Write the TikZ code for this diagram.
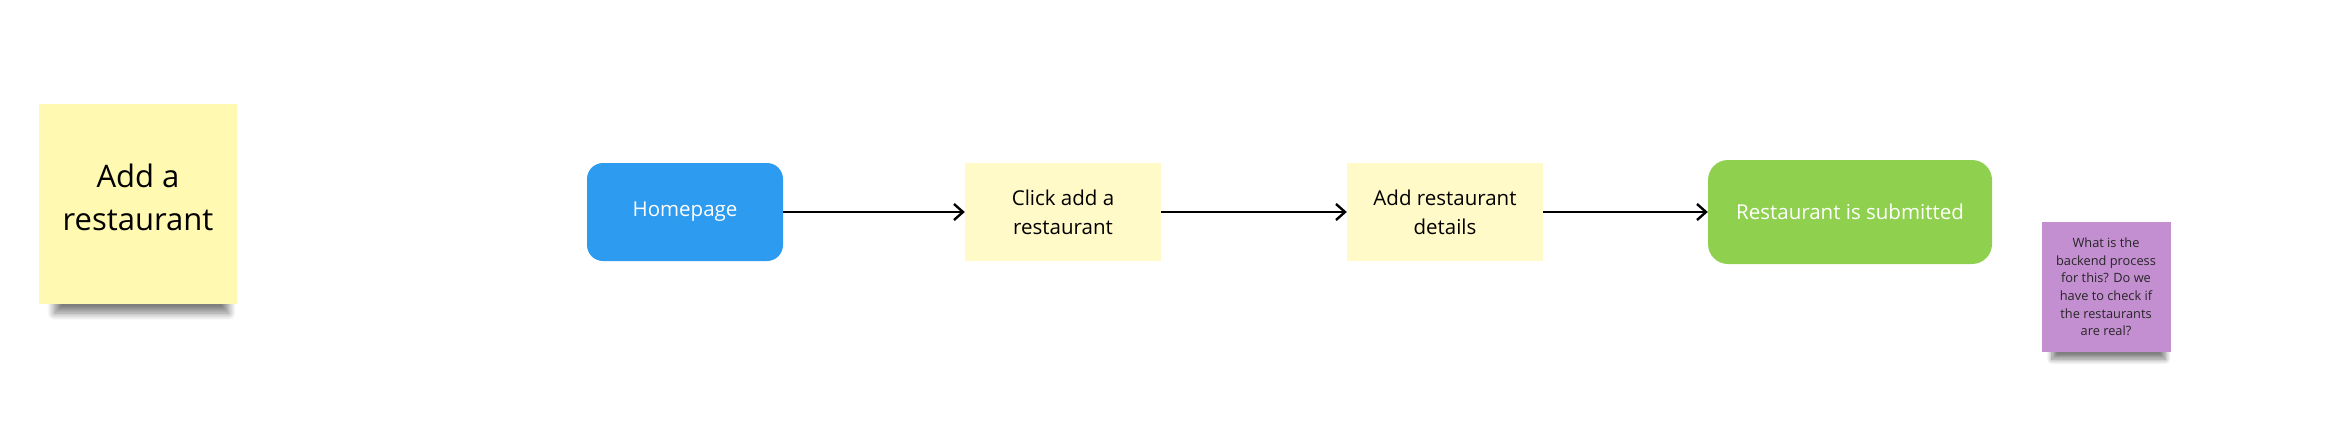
\documentclass[tikz,border=0pt]{standalone}
\usepackage{fontspec}
\setmainfont{Open Sans}
\usetikzlibrary{arrows.meta,shadows.blur}
\definecolor{stickyyellow}{HTML}{FFF9B1}
\definecolor{cardyellow}{HTML}{FFFAC8}
\definecolor{flowblue}{HTML}{2D9BF0}
\definecolor{flowgreen}{HTML}{8FD14F}
\definecolor{stickyviolet}{HTML}{C48FD0}
\tikzstyle{sticky}=[fill=stickyyellow,minimum width=198pt,minimum height=200pt,inner sep=0pt,align=center,text depth=14pt,font=\fontsize{31}{43}\selectfont,blur shadow={shadow xshift=4pt,shadow yshift=-24pt,shadow opacity=50,shadow blur steps=12,shadow blur radius=8pt,shadow scale=0.88}]
\tikzstyle{card}=[fill=cardyellow,minimum width=196pt,minimum height=98pt,inner sep=0pt,align=center,font=\fontsize{20.5}{29}\selectfont]
\tikzstyle{screen}=[card,fill=flowblue,text=white,rounded corners=16pt]
\tikzstyle{done}=[card,fill=flowgreen,text=white,minimum width=284pt,minimum height=104pt,rounded corners=20pt]
\tikzstyle{note}=[fill=stickyviolet,minimum width=129pt,minimum height=130pt,inner sep=0pt,align=center,text=black!85,font=\fontsize{12.8}{17.6}\selectfont,blur shadow={shadow xshift=3pt,shadow yshift=-17pt,shadow opacity=50,shadow blur steps=10,shadow blur radius=6pt,shadow scale=0.88}]
\tikzstyle{flow}=[-{Straight Barb[length=9pt,width=16pt]},line width=2.4pt]

\begin{document}
\begin{tikzpicture}[x=1pt,y=-1pt]
  \useasboundingbox (0,0) rectangle (2325,429);
  % sticky notes
  \node[sticky] (title) at (138,204) {Add a\\restaurant};
  \node[note] (question) at (2106,287) {What is the\\backend process\\for this? Do we\\have to check if\\the restaurants\\are real?};
  % flow
  \node[screen] (home) at (685,212) {Homepage};
  \node[card] (click) at (1063,212) {Click add a\\restaurant};
  \node[card] (details) at (1445,212) {Add restaurant\\details};
  \node[done] (submitted) at (1850,212) {Restaurant is submitted};
  \draw[flow] (home) -- (click);
  \draw[flow] (click) -- (details);
  \draw[flow] (details) -- (submitted);
\end{tikzpicture}
\end{document}
